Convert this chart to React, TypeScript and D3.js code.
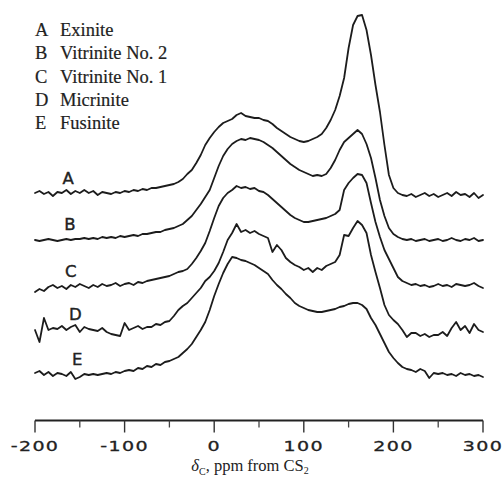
import React from "react";
import * as d3 from "d3";

// chemical shift sample positions (ppm from CS2)
const shifts: number[] = d3.range(-200, 301, 5);

const seriesNames = ["A", "B", "C", "D", "E"];
const legendNames = ["Exinite", "Vitrinite No. 2", "Vitrinite No. 1", "Micrinite", "Fusinite"];
const offsets = [181, 135, 88, 45, 0];

const exinite = [
  1, 3, 0, 2, -2, 2, 1, 4, 0, 3, 1, 4, 1, 3, -1, 2, 1, 0, 2, 1, 3,
  2, 4, 3, 5, 4, 6, 6, 7, 8, 9, 10, 12, 15, 20, 24, 31, 39, 49, 56, 62,
  67, 71, 73, 75, 79, 81, 78, 77, 76, 76, 74, 73, 70, 66, 63, 60, 57, 55, 53, 52,
  53, 55, 57, 60, 66, 74, 84, 98, 116, 146, 169, 178, 179, 164, 139, 109, 82, 49, 19, 6,
  1, -1, -2, 0, -3, -1, 1, -2, 0, -3, -1, 1, -2, 2, -1, 0, -3, 1, -4, -1,
];
const vitrinite2 = [
  0, -1, 0, 1, 0, -1, 0, 1, 0, 1, 1, 2, 1, 2, 1, 3, 2, 3, 2, 4, 3,
  4, 5, 4, 6, 6, 7, 8, 8, 10, 11, 12, 14, 16, 20, 24, 30, 36, 43, 50, 62,
  74, 84, 91, 96, 99, 101, 100, 102, 101, 100, 98, 95, 92, 88, 84, 80, 76, 73, 70, 68,
  66, 64, 65, 64, 66, 72, 80, 90, 98, 102, 106, 110, 106, 96, 82, 62, 40, 24, 12, 6,
  3, 1, 0, 1, -1, 0, 1, -1, 0, 1, -1, 0, 2, 0, -1, 1, 0, 2, -1, 0,
];
const vitrinite1 = [
  -5, -2, -4, 0, 2, -1, 1, -2, 2, 0, 3, 1, -1, 2, 0, 3, 1, 2, 4, 1, 3,
  4, 2, 5, 4, 6, 7, 8, 9, 10, 11, 13, 15, 16, 18, 23, 29, 36, 44, 56, 69,
  81, 89, 94, 97, 101, 99, 100, 98, 99, 96, 95, 92, 88, 84, 80, 76, 72, 69, 67, 65,
  65, 66, 67, 68, 69, 71, 73, 77, 97, 104, 109, 113, 112, 104, 84, 65, 50, 37, 28, 19,
  10, 6, 4, 2, 3, 1, 2, 0, 1, 3, 1, 2, 0, 3, 2, 1, 2, 4, 1, -1,
];
const micrinite = [
  0, -12, 12, 0, 2, 1, 4, 0, 3, 5, -2, 3, 1, 0, -1, 2, -2, -4, -5, -6, 7,
  0, 2, 4, 1, 3, 3, 6, 5, 8, 9, 14, 20, 24, 27, 32, 37, 42, 49, 53, 59,
  67, 78, 90, 97, 106, 98, 100, 97, 99, 96, 94, 92, 78, 85, 80, 72, 68, 65, 63, 60,
  62, 58, 62, 60, 64, 66, 68, 75, 95, 94, 102, 109, 105, 97, 75, 58, 42, 25, 15, 10,
  6, 0, -7, -3, -3, -6, -4, -7, -5, -5, -2, -6, 2, 8, 0, 4, -3, 6, 0, -2,
];
const fusinite = [
  2, 4, 0, 3, -1, 2, 1, -1, 3, -4, -2, 1, 0, 1, 0, 1, 2, 1, 3, 2, 4,
  5, 4, 7, 6, 9, 8, 11, 10, 13, 14, 16, 18, 22, 26, 31, 38, 45, 53, 65, 79,
  91, 102, 111, 118, 117, 115, 114, 112, 110, 107, 104, 101, 95, 90, 86, 81, 77, 72, 69, 67,
  65, 64, 63, 63, 64, 65, 66, 68, 69, 71, 72, 72, 70, 66, 57, 50, 41, 32, 23, 17,
  12, 8, 6, 5, 3, 6, 4, -3, 2, 1, 2, 0, 1, -1, 2, 0, 1, -1, 0, -2,
];
const spectra = [exinite, vitrinite2, vitrinite1, micrinite, fusinite];

const majorTicks = [-200, -100, 0, 100, 200, 300];
const minorTicks = [-150, -50, 50, 150, 250];
const labelShift = [-163, -161, -160, -155, -153];

const W = 504;
const H = 484;

export default function App() {
  const x = d3.scaleLinear().domain([-200, 300]).range([35, 483]);
  const y = d3.scaleLinear().domain([0, 360]).range([375, 15]);
  const axisY = 420.5;

  const line = (vals: number[], off: number) =>
    d3
      .line<number>()
      .x((_, i) => x(shifts[i]))
      .y((v) => y(v + off))
      .curve(d3.curveLinear)(vals) as string;

  return (
    <svg
      width={W}
      height={H}
      viewBox={`0 0 ${W} ${H}`}
      style={{ position: "absolute", left: 0, top: 0, background: "#fff" }}
    >
      <rect width={W} height={H} fill="#fff" />
      {/* legend */}
      <g fontFamily="'Liberation Serif', 'Times New Roman', serif" fontSize={18.5} fill="#222" stroke="#222" strokeWidth={0.2}>
        {seriesNames.map((s, i) => (
          <g key={s}>
            <text x={35} y={36 + i * 23.3}>{s}</text>
            <text x={60} y={36 + i * 23.3}>{legendNames[i]}</text>
          </g>
        ))}
      </g>
      {/* spectra */}
      {spectra.map((vals, i) => (
        <path
          key={i}
          d={line(vals, offsets[i])}
          fill="none"
          stroke="#1c1c1c"
          strokeWidth={1.8}
          strokeLinejoin="round"
          strokeLinecap="round"
        />
      ))}
      {/* curve labels */}
      {seriesNames.map((s, i) => (
        <text
          key={s}
          x={x(labelShift[i])}
          y={y(offsets[i] + 10)}
          textAnchor="middle"
          fontFamily="'DejaVu Sans', sans-serif"
          fontSize={16.5}
          fill="#222"
          stroke="#222"
          strokeWidth={0.4}
        >
          {s}
        </text>
      ))}
      {/* axis */}
      <line x1={x(-200)} x2={x(300)} y1={axisY} y2={axisY} stroke="#222" strokeWidth={2} />
      {majorTicks.map((t) => (
        <line key={t} x1={x(t)} x2={x(t)} y1={axisY} y2={axisY + 12} stroke="#333" strokeWidth={1.4} />
      ))}
      {minorTicks.map((t) => (
        <line key={t} x1={x(t)} x2={x(t)} y1={axisY} y2={axisY + 7} stroke="#444" strokeWidth={1.3} />
      ))}
      {majorTicks.map((t) => (
        <g key={t} transform={`translate(${x(t)},451) scale(1.36,1)`}>
          <text
            textAnchor="middle"
            fontFamily="'DejaVu Sans', sans-serif"
            fontSize={14}
            letterSpacing={1}
            fill="#222"
            stroke="#222"
            strokeWidth={0.3}
          >
            {t < 0 ? "-" + Math.abs(t) : String(t)}
          </text>
        </g>
      ))}
      <text
        x={250}
        y={471}
        textAnchor="middle"
        fontFamily="'Liberation Serif', 'Times New Roman', serif"
        fontSize={16.5}
        fill="#222"
      >
        <tspan fontStyle="italic">δ</tspan>
        <tspan fontSize={10} dy={4}>C</tspan>
        <tspan dy={-4}>, ppm from CS</tspan>
        <tspan fontSize={10} dy={3}>2</tspan>
      </text>
    </svg>
  );
}
